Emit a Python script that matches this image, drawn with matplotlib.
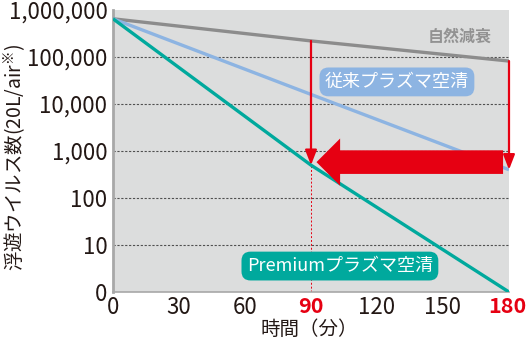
import matplotlib
matplotlib.use("Agg")
import matplotlib.pyplot as plt
from matplotlib.transforms import ScaledTranslation

# ---- data ----
minutes = [0, 90, 180]
natural = [650000, 220000, 82000]      # 自然減衰
conventional = [650000, 16000, 400]    # 従来プラズマ空清
premium = [650000, 500, 1]             # Premiumプラズマ空清

x_ticks = [0, 30, 60, 90, 120, 150, 180]
x_tick_labels = ["0", "30", "60", "90", "120", "150", "180"]
y_ticks = [1, 10, 100, 1000, 10000, 100000, 1000000]
y_tick_labels = ["0", "10", "100", "1,000", "10,000", "100,000", "1,000,000"]
highlight_x = [90, 180]

# ---- style ----
JP = ["Noto Sans CJK JP", "DejaVu Sans"]
NUM = ["Noto Sans CJK JP"]
plt.rcParams["mathtext.fontset"] = "custom"
plt.rcParams["mathtext.rm"] = "Noto Sans CJK JP"
plt.rcParams["mathtext.it"] = "Noto Sans CJK JP"

BG = "#dcdddd"
C_GRAY = "#8c8c8c"
C_BLUE = "#8db4e2"
C_TEAL = "#00a99d"
C_RED = "#e60012"
C_TXT = "#231815"

fig = plt.figure(figsize=(5.26, 3.42), dpi=100)
fig.patch.set_facecolor("white")
ax = fig.add_axes([113/526, 1-292/342, 396/526, 282/342])
ax.set_facecolor(BG)
ax.set_yscale("log")
ax.set_xlim(0, 180)
ax.set_ylim(1, 1e6)

for yv in y_ticks[1:-1]:
    ax.axhline(yv, color="#505050", lw=0.8, ls=(0, (2, 1.5)), zorder=1)

for xv in highlight_x:
    yend = premium[minutes.index(xv)] if xv == 90 else conventional[minutes.index(xv)]
    ax.plot([xv, xv], [1, yend], color=C_RED, lw=0.7, ls=(0, (2, 2)), zorder=2)

ax.plot(minutes, natural, color=C_GRAY, lw=2.4, zorder=3, solid_capstyle="butt")
ax.plot(minutes, conventional, color=C_BLUE, lw=2.4, zorder=3, solid_capstyle="butt")
ax.plot(minutes, premium, color=C_TEAL, lw=2.4, zorder=3, solid_capstyle="butt")

# vertical red arrows from natural decay to each method
for xv, target in [(90, premium), (180, conventional)]:
    i = minutes.index(xv)
    ax.annotate("", xy=(xv, target[i]), xytext=(xv, natural[i]),
                arrowprops=dict(arrowstyle="-|>,head_width=0.35,head_length=0.9",
                                color=C_RED, lw=1.6, shrinkA=0, shrinkB=0),
                zorder=5)

# big red arrow
ax.annotate("", xy=(92.5, 580), xytext=(177.3, 580),
            arrowprops=dict(arrowstyle="simple,head_length=1.0,head_width=2.0,tail_width=1.0",
                            mutation_scale=17, color=C_RED, lw=0, shrinkA=0, shrinkB=0),
            zorder=6)

# labels
ax.text(0.876, 0.904, "自然減衰", transform=ax.transAxes, ha="center", va="center",
        fontsize=11.5, color="#929292", family=JP, fontweight="bold", zorder=7)
ax.text(0.717, 0.745, "従来プラズマ空清", transform=ax.transAxes, ha="center", va="center",
        fontsize=13, color="white", family=JP, zorder=7,
        bbox=dict(boxstyle="round,pad=0.3,rounding_size=0.5", fc=C_BLUE, ec="none"))
ax.text(0.573, 0.092, "Premiumプラズマ空清", transform=ax.transAxes, ha="center", va="center",
        fontsize=13, color="white", family=JP, zorder=7,
        bbox=dict(boxstyle="round,pad=0.3,rounding_size=0.5", fc=C_TEAL, ec="none"))

# axes
for s in ["top", "right"]:
    ax.spines[s].set_visible(False)
ax.spines["left"].set_color("#a8a8a8")
ax.spines["left"].set_linewidth(2.0)
ax.spines["bottom"].set_color("#a8a8a8")
ax.spines["bottom"].set_linewidth(1.2)

ax.set_xticks(x_ticks)
ax.set_xticklabels(x_tick_labels, family=NUM, fontsize=16, color=C_TXT)
ax.set_yticks(y_ticks)
ax.set_yticklabels(y_tick_labels, family=NUM, fontsize=16, color=C_TXT)
ax.minorticks_off()
ax.tick_params(axis="both", length=0)
ax.tick_params(axis="y", pad=4)
ax.tick_params(axis="x", pad=3)
for lab, v in zip(ax.get_xticklabels(), x_ticks):
    if v in highlight_x:
        lab.set_color(C_RED)
        lab.set_fontweight("bold")
        lab.set_fontsize(15.5)
    if v == x_ticks[-1]:
        lab.set_transform(lab.get_transform() + ScaledTranslation(-2/100, 0, fig.dpi_scale_trans))

fig.text(309/526, 1-329/342, "時間（分）", ha="center", va="center",
         fontsize=14, color=C_TXT, family=JP)
fig.text(15/526, 1-157/342, "浮遊ウイルス数(20L/air$^{※}$)", ha="center", va="center",
         rotation=90, fontsize=14, color=C_TXT, family=JP)

fig.savefig("out.png", dpi=100, facecolor="white")
